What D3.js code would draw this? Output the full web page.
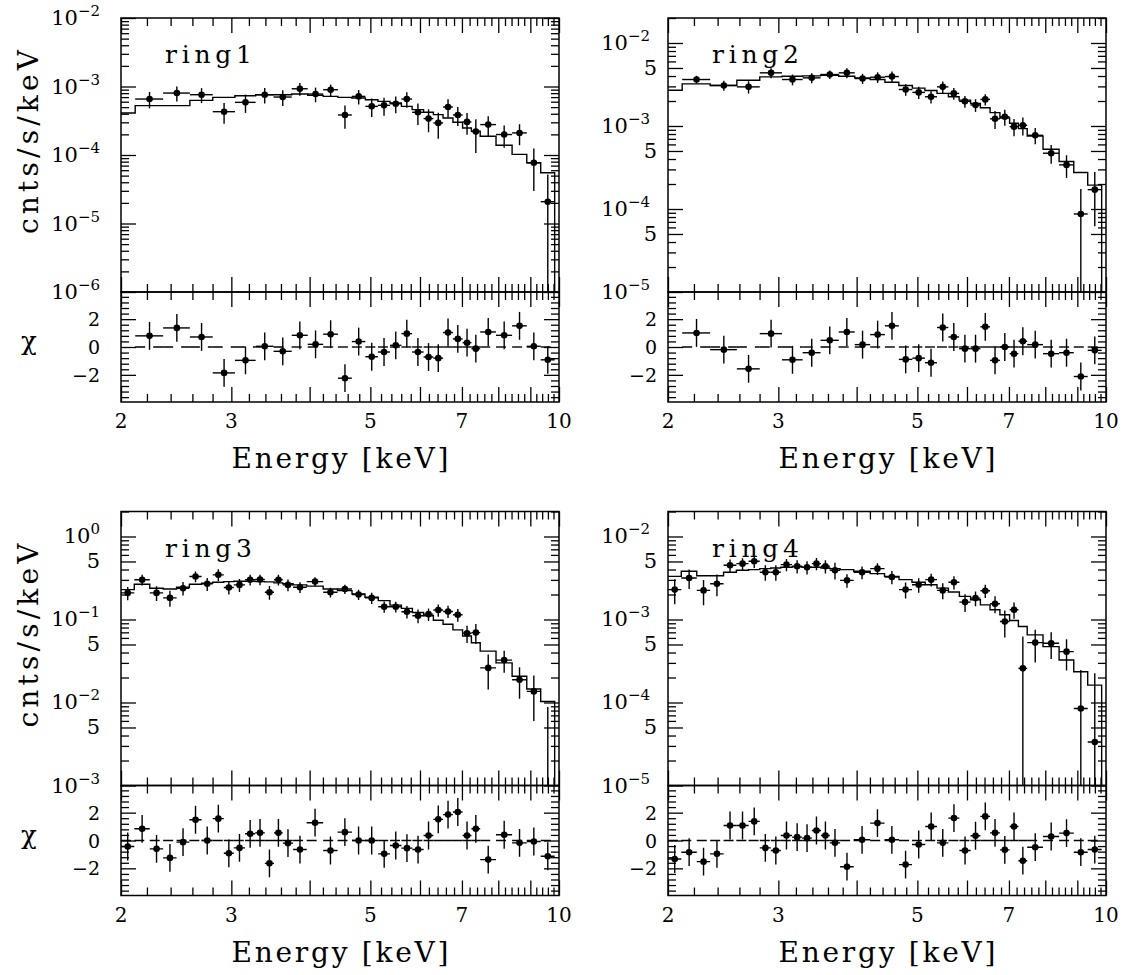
<!DOCTYPE html>
<html>
<head>
<meta charset="utf-8">
<script src="https://cdn.jsdelivr.net/npm/d3@7"></script>
<style>
  body { margin: 0; background: #fff; }
  svg { display: block; }
  text { font-family: "DejaVu Serif", "Liberation Serif", serif; fill: #000; }
</style>
</head>
<body>
<svg id="chart" width="1121" height="975"></svg>
<script>
// ---- spectral binning (keV bin edges) ----
const edgesCoarse = [2.000, 2.107, 2.335, 2.576, 2.802, 3.040, 3.280, 3.503, 3.745, 3.972,
  4.204, 4.438, 4.671, 4.909, 5.141, 5.374, 5.604, 5.829, 6.080, 6.303, 6.531, 6.772,
  7.017, 7.248, 7.486, 7.934, 8.417, 8.883, 9.350, 9.842];
const edgesFine = [2.000, 2.100, 2.223, 2.335, 2.453, 2.571, 2.689, 2.802, 2.918, 3.027,
  3.155, 3.274, 3.393, 3.509, 3.624, 3.764, 3.957, 4.204, 4.432, 4.674, 4.902, 5.147,
  5.374, 5.604, 5.835, 6.080, 6.303, 6.531, 6.772, 7.017, 7.248, 7.486, 7.934, 8.417,
  8.883, 9.350, 9.842];

// ---- ring1 ----
const ring1Rate = [null, 6.56e-4, 8.02e-4, 7.59e-4, 4.29e-4, 5.87e-4, 7.59e-4, 7.02e-4, 9.27e-4,
  7.76e-4, 8.97e-4, 3.84e-4, 7.17e-4, 5.13e-4, 5.31e-4, 5.61e-4, 6.56e-4, 4.20e-4, 3.40e-4,
  2.94e-4, 5.02e-4, 3.84e-4, 3.04e-4, 2.20e-4, 2.78e-4, 1.99e-4, 2.10e-4, 7.69e-5, 2.08e-5];
const ring1Err = [null, 1.76e-4, 1.97e-4, 1.87e-4, 1.43e-4, 1.75e-4, 1.94e-4, 1.82e-4, 1.94e-4,
  1.87e-4, 1.71e-4, 1.43e-4, 1.71e-4, 1.55e-4, 1.56e-4, 1.53e-4, 1.67e-4, 1.46e-4, 1.25e-4,
  1.21e-4, 1.49e-4, 1.20e-4, 1.07e-4, 1.13e-4, 0.90e-4, 0.71e-4, 0.71e-4, 4.7e-5, 3.1e-5];
const ring1Model = [4.10e-4, 5.25e-4, 5.25e-4, 6.27e-4, 6.94e-4, 7.34e-4, 7.59e-4, 7.59e-4,
  7.76e-4, 7.42e-4, 7.18e-4, 6.94e-4, 6.78e-4, 6.42e-4, 6.07e-4, 5.74e-4, 5.13e-4, 4.59e-4,
  4.20e-4, 3.88e-4, 3.47e-4, 3.00e-4, 2.48e-4, 2.22e-4, 1.88e-4, 1.39e-4, 1.02e-4, 7.69e-5, 5.50e-5];
const ring1Chi = [null, 0.80, 1.37, 0.72, -1.86, -0.96, 0.05, -0.31, 0.84, 0.19, 0.92, -2.24,
  0.39, -0.70, -0.36, 0.12, 0.96, -0.36, -0.72, -0.80, 1.04, 0.58, 0.31, -0.12, 1.08, 0.84,
  1.52, 0.05, -0.92];

// ---- ring2 ----
const ring2Rate = [null, 3.63e-3, 3.08e-3, 2.96e-3, 4.37e-3, 3.63e-3, 3.80e-3, 4.17e-3, 4.37e-3,
  3.73e-3, 3.87e-3, 3.94e-3, 2.75e-3, 2.54e-3, 2.25e-3, 2.96e-3, 2.47e-3, 1.98e-3, 1.79e-3,
  2.09e-3, 1.22e-3, 1.29e-3, 9.82e-4, 1.02e-3, 7.73e-4, 4.70e-4, 3.40e-4, 8.71e-5, 1.71e-4];
const ring2Err = [null, 4.0e-4, 4.2e-4, 5.0e-4, 6.0e-4, 5.4e-4, 5.3e-4, 5.0e-4, 6.0e-4, 5.2e-4,
  5.7e-4, 6.0e-4, 4.4e-4, 4.2e-4, 3.8e-4, 4.8e-4, 4.0e-4, 3.2e-4, 3.1e-4, 3.2e-4, 3.0e-4,
  2.8e-4, 2.3e-4, 2.5e-4, 1.7e-4, 1.19e-4, 1.04e-4, 8.7e-5, 1.09e-4];
const ring2Model = [2.70e-3, 3.22e-3, 3.08e-3, 3.56e-3, 3.91e-3, 3.98e-3, 4.02e-3, 4.09e-3,
  3.98e-3, 3.80e-3, 3.63e-3, 3.37e-3, 3.08e-3, 2.86e-3, 2.68e-3, 2.47e-3, 2.25e-3, 2.05e-3,
  1.87e-3, 1.66e-3, 1.45e-3, 1.25e-3, 1.08e-3, 9.29e-4, 7.59e-4, 5.25e-4, 3.73e-4, 2.75e-4, 1.94e-4];
const ring2Chi = [null, 1.01, -0.19, -1.57, 0.96, -0.92, -0.41, 0.48, 1.08, 0.17, 0.89, 1.52,
  -0.89, -0.80, -1.13, 1.40, 0.72, -0.12, -0.12, 1.45, -0.96, 0.00, -0.48, 0.41, 0.17, -0.48,
  -0.41, -2.12, -0.24];

// ---- ring3 ----
const ring3Rate = [0.209, 0.301, 0.209, 0.182, 0.238, 0.330, 0.269, 0.345, 0.243, 0.261, 0.301,
  0.303, 0.213, 0.301, 0.261, 0.245, 0.286, 0.213, 0.233, 0.200, 0.182, 0.1426, 0.1426, 0.1239,
  0.111, 0.116, 0.130, 0.125, 0.114, 0.0682, 0.0695, 0.0261, 0.0324, 0.0188, 0.0136, -0.0026];
const ring3Err = [0.038, 0.044, 0.042, 0.040, 0.044, 0.049, 0.048, 0.057, 0.043, 0.046, 0.045,
  0.044, 0.040, 0.045, 0.042, 0.036, 0.036, 0.029, 0.030, 0.028, 0.028, 0.022, 0.021, 0.021,
  0.021, 0.020, 0.022, 0.021, 0.020, 0.016, 0.019, 0.0118, 0.0095, 0.0077, 0.0076, 0.0114];
const ring3Model = [0.229, 0.266, 0.238, 0.233, 0.245, 0.266, 0.274, 0.281, 0.286, 0.289, 0.289,
  0.286, 0.284, 0.276, 0.269, 0.261, 0.252, 0.233, 0.223, 0.203, 0.185, 0.169, 0.149, 0.136,
  0.1216, 0.111, 0.0981, 0.0877, 0.0749, 0.0633, 0.0525, 0.0416, 0.0300, 0.0207, 0.01452, 0.01028];
const ring3Chi = [-0.43, 0.84, -0.60, -1.25, -0.12, 1.49, 0.00, 1.57, -0.92, -0.53, 0.48, 0.55,
  -1.64, 0.55, -0.19, -0.65, 1.28, -0.72, 0.60, 0.00, 0.00, -0.96, -0.36, -0.55, -0.65, 0.36,
  1.52, 1.86, 2.05, 0.36, 0.84, -1.37, 0.41, -0.17, -0.07, -1.13];

// ---- ring4 ----
const ring4Rate = [2.29e-3, 3.16e-3, 2.24e-3, 2.70e-3, 4.50e-3, 4.71e-3, 5.03e-3, 3.71e-3,
  3.71e-3, 4.58e-3, 4.38e-3, 4.26e-3, 4.71e-3, 4.38e-3, 3.92e-3, 2.96e-3, 3.71e-3, 4.10e-3,
  3.25e-3, 2.29e-3, 2.62e-3, 3.02e-3, 2.24e-3, 2.81e-3, 1.62e-3, 1.81e-3, 2.22e-3, 1.55e-3,
  9.46e-4, 1.31e-3, 2.58e-4, 5.27e-4, 5.18e-4, 4.10e-4, 8.45e-5, 3.34e-5];
const ring4Err = [7.6e-4, 8.3e-4, 7.6e-4, 7.9e-4, 7.8e-4, 7.7e-4, 8.6e-4, 7.9e-4, 7.9e-4, 7.8e-4,
  8.0e-4, 7.8e-4, 8.0e-4, 8.0e-4, 8.9e-4, 5.4e-4, 6.5e-4, 6.6e-4, 5.9e-4, 5.0e-4, 5.2e-4,
  5.3e-4, 4.9e-4, 5.1e-4, 3.9e-4, 3.7e-4, 4.0e-4, 3.6e-4, 3.4e-4, 2.9e-4, 3.65e-4, 2.23e-4,
  1.83e-4, 1.67e-4, 1.62e-4, 1.91e-4];
const ring4Model = [3.31e-3, 3.81e-3, 3.37e-3, 3.37e-3, 3.71e-3, 3.92e-3, 3.99e-3, 4.10e-3,
  4.18e-3, 4.26e-3, 4.30e-3, 4.26e-3, 4.26e-3, 4.18e-3, 4.10e-3, 3.99e-3, 3.81e-3, 3.57e-3,
  3.31e-3, 3.02e-3, 2.81e-3, 2.62e-3, 2.39e-3, 2.14e-3, 1.90e-3, 1.73e-3, 1.50e-3, 1.31e-3,
  1.14e-3, 9.73e-4, 8.23e-4, 6.53e-4, 4.71e-4, 3.25e-4, 2.35e-4, 1.62e-4];
const ring4Chi = [-1.33, -0.84, -1.52, -0.96, 1.08, 1.08, 1.37, -0.53, -0.72, 0.36, 0.24, 0.17,
  0.72, 0.36, -0.17, -1.88, 0.05, 1.25, 0.05, -1.73, -0.29, 1.01, -0.17, 1.61, -0.72, 0.34,
  1.73, 0.55, -0.67, 1.01, -1.45, -0.48, 0.29, 0.53, -0.84, -0.65];

// ---- axis ticks / labels ----
const energyLabels = [2, 3, 5, 7, 10];
const chiLabels = [-2, 0, 2];
const panelNames = ["ring1", "ring2", "ring3", "ring4"];

const panels = [
  { name: panelNames[0], col: 0, row: 0, edges: edgesCoarse, rate: ring1Rate, err: ring1Err,
    model: ring1Model, chi: ring1Chi, yDomain: [1e-6, 1e-2], fives: false },
  { name: panelNames[1], col: 1, row: 0, edges: edgesCoarse, rate: ring2Rate, err: ring2Err,
    model: ring2Model, chi: ring2Chi, yDomain: [1e-5, 2e-2], fives: true },
  { name: panelNames[2], col: 0, row: 1, edges: edgesFine, rate: ring3Rate, err: ring3Err,
    model: ring3Model, chi: ring3Chi, yDomain: [1e-3, 2], fives: true },
  { name: panelNames[3], col: 1, row: 1, edges: edgesFine, rate: ring4Rate, err: ring4Err,
    model: ring4Model, chi: ring4Chi, yDomain: [1e-5, 2e-2], fives: true }
];

// ---- layout ----
const PW = 438, HM = 274, HR = 110;
const colX = [121, 668];
const rowY = [18, 511.5];
const MAJ = 15, MIN = 8;
const LW = 1.4;

const svg = d3.select("#chart");
const defs = svg.append("defs");

const round1 = v => Math.round(v * 10) / 10;
const xMajor = d3.range(2, 11, 1);
const xMinor = d3.range(2, 10.001, 0.2).map(round1).filter(v => Math.abs(v - Math.round(v)) > 1e-6);
const chiTicks = d3.range(-3.6, 3.61, 0.4).map(round1);
const chiMajor = chiTicks.filter(v => Math.abs(v % 2) < 1e-6);
const chiMinor = chiTicks.filter(v => Math.abs(v % 2) >= 1e-6);

function logTicks(domain, fives) {
  const lo = Math.floor(Math.log10(domain[0]) + 1e-9), hi = Math.ceil(Math.log10(domain[1]) - 1e-9);
  const major = [], minor = [];
  for (let d = lo; d <= hi; d++) {
    for (let k = 1; k <= 9; k++) {
      const v = k * Math.pow(10, d);
      if (v < domain[0] * 0.999 || v > domain[1] * 1.001) continue;
      if (k === 1 || (fives && k === 5)) major.push(v); else minor.push(v);
    }
  }
  return { major, minor };
}

function stripAxis(sel) {
  sel.select(".domain").remove();
  sel.selectAll(".tick line").attr("stroke", "#000").attr("stroke-width", 1.3);
  sel.selectAll(".tick text").remove();
}

function drawTicksX(g, scale, yPos, dir) {
  // dir: +1 ticks point down, -1 ticks point up
  const axisFn = dir > 0 ? d3.axisTop : d3.axisBottom;
  [[xMajor, MAJ], [xMinor, MIN]].forEach(([vals, len]) => {
    g.append("g").attr("transform", `translate(0,${yPos})`)
      .call(axisFn(scale).tickValues(vals).tickSize(-len).tickFormat(""))
      .call(stripAxis);
  });
}

function drawTicksY(g, scale, x0, x1, major, minor) {
  [[major, MAJ], [minor, MIN]].forEach(([vals, len]) => {
    g.append("g").attr("transform", `translate(${x0},0)`)
      .call(d3.axisLeft(scale).tickValues(vals).tickSize(-len).tickFormat(""))
      .call(stripAxis);
    g.append("g").attr("transform", `translate(${x1},0)`)
      .call(d3.axisRight(scale).tickValues(vals).tickSize(-len).tickFormat(""))
      .call(stripAxis);
  });
}

panels.forEach((p, pi) => {
  const x0 = colX[p.col], x1 = x0 + PW;
  const y0 = rowY[p.row], yDiv = y0 + HM, yBot = yDiv + HR;

  const x = d3.scaleLog().domain([2, 10]).range([x0, x1]);
  const y = d3.scaleLog().domain(p.yDomain).range([yDiv, y0]);
  const yr = d3.scaleLinear().domain([-3.95, 3.95]).range([yBot, yDiv]);
  const yv = v => (v > 0 ? y(v) : yDiv + 20);

  defs.append("clipPath").attr("id", `clipMain${pi}`).append("rect")
    .attr("x", x0).attr("y", y0).attr("width", PW).attr("height", HM);
  defs.append("clipPath").attr("id", `clipRes${pi}`).append("rect")
    .attr("x", x0).attr("y", yDiv).attr("width", PW).attr("height", HR);

  const nb = p.edges.length - 1;
  const bins = d3.range(nb).map(i => ({
    lo: p.edges[i], hi: p.edges[i + 1], mid: (p.edges[i] + p.edges[i + 1]) / 2,
    rate: p.rate[i], err: p.err[i], model: p.model[i], chi: p.chi[i]
  }));
  const data = bins.filter(b => b.rate != null);

  // ---- spectrum panel ----
  const main = svg.append("g").attr("clip-path", `url(#clipMain${pi})`);

  const stepPts = bins.map(b => [x(b.lo), y(b.model)]);
  stepPts.push([x(bins[nb - 1].hi), y(bins[nb - 1].model)]);
  stepPts.push([x(bins[nb - 1].hi), yDiv + 5]);
  main.append("path")
    .attr("d", d3.line().curve(d3.curveStepAfter)(stepPts))
    .attr("fill", "none").attr("stroke", "#000").attr("stroke-width", LW);

  main.selectAll(".xerr").data(data).join("line").attr("class", "xerr")
    .attr("x1", d => x(d.lo)).attr("x2", d => x(d.hi))
    .attr("y1", d => yv(d.rate)).attr("y2", d => yv(d.rate))
    .attr("stroke", "#000").attr("stroke-width", LW);
  main.selectAll(".yerr").data(data).join("line").attr("class", "yerr")
    .attr("x1", d => x(d.mid)).attr("x2", d => x(d.mid))
    .attr("y1", d => yv(d.rate - d.err)).attr("y2", d => yv(d.rate + d.err))
    .attr("stroke", "#000").attr("stroke-width", LW);
  main.selectAll(".dot").data(data.filter(d => d.rate > 0)).join("circle").attr("class", "dot")
    .attr("cx", d => x(d.mid)).attr("cy", d => y(d.rate)).attr("r", 3.3).attr("fill", "#000");

  // ---- residual panel ----
  const res = svg.append("g").attr("clip-path", `url(#clipRes${pi})`);
  res.selectAll(".zero").data(data).join("line").attr("class", "zero")
    .attr("x1", d => x(d.lo)).attr("x2", d => x(d.hi))
    .attr("y1", yr(0)).attr("y2", yr(0))
    .attr("stroke", "#000").attr("stroke-width", LW).attr("stroke-dasharray", "10,8");
  res.selectAll(".xerr").data(data).join("line").attr("class", "xerr")
    .attr("x1", d => x(d.lo)).attr("x2", d => x(d.hi))
    .attr("y1", d => yr(d.chi)).attr("y2", d => yr(d.chi))
    .attr("stroke", "#000").attr("stroke-width", LW);
  res.selectAll(".yerr").data(data).join("line").attr("class", "yerr")
    .attr("x1", d => x(d.mid)).attr("x2", d => x(d.mid))
    .attr("y1", d => yr(d.chi - 1)).attr("y2", d => yr(d.chi + 1))
    .attr("stroke", "#000").attr("stroke-width", LW);
  res.selectAll(".dot").data(data).join("circle").attr("class", "dot")
    .attr("cx", d => x(d.mid)).attr("cy", d => yr(d.chi)).attr("r", 3.3).attr("fill", "#000");

  // ---- frames and ticks ----
  const axes = svg.append("g");
  axes.append("rect").attr("x", x0).attr("y", y0).attr("width", PW).attr("height", HM)
    .attr("fill", "none").attr("stroke", "#000").attr("stroke-width", 1.5);
  axes.append("rect").attr("x", x0).attr("y", yDiv).attr("width", PW).attr("height", HR)
    .attr("fill", "none").attr("stroke", "#000").attr("stroke-width", 1.5);

  drawTicksX(axes, x, y0, +1);
  drawTicksX(axes, x, yDiv, -1);
  drawTicksX(axes, x, yDiv, +1);
  drawTicksX(axes, x, yBot, -1);

  const lt = logTicks(p.yDomain, p.fives);
  drawTicksY(axes, y, x0, x1, lt.major, lt.minor);
  drawTicksY(axes, yr, x0, x1, chiMajor, chiMinor);

  // ---- tick labels ----
  const decGap = p.col === 0 ? 21 : 18;
  const otherGap = p.col === 0 ? 21 : 11;
  lt.major.forEach(v => {
    const e = Math.round(Math.log10(v));
    const isDecade = Math.abs(v / Math.pow(10, e) - 1) < 1e-6;
    if (isDecade) {
      const t = axes.append("text").attr("x", x0 - decGap).attr("y", y(v) + 7)
        .attr("text-anchor", "end").attr("font-size", 21);
      t.append("tspan").text("10");
      t.append("tspan").attr("dy", -9).attr("font-size", 15)
        .text(e < 0 ? "\u2212" + (-e) : String(e));
    } else {
      axes.append("text").attr("x", x0 - otherGap).attr("y", y(v) + 7)
        .attr("text-anchor", "end").attr("font-size", 21).text("5");
    }
  });
  chiLabels.forEach(v => {
    axes.append("text").attr("x", x0 - otherGap).attr("y", yr(v) + 7)
      .attr("text-anchor", "end").attr("font-size", 19)
      .text(v < 0 ? "\u2212" + (-v) : String(v));
  });
  energyLabels.forEach(v => {
    axes.append("text").attr("x", x(v)).attr("y", yBot + 26)
      .attr("text-anchor", "middle").attr("font-size", 20).text(String(v));
  });

  // ---- titles ----
  axes.append("text").attr("x", x0 + PW / 2).attr("y", yBot + 66)
    .attr("text-anchor", "middle").attr("font-size", 28)
    .attr("textLength", 217).attr("lengthAdjust", "spacing")
    .text("Energy [keV]");
  axes.append("text").attr("x", x0 + 44).attr("y", y0 + 45)
    .attr("font-size", 25).attr("textLength", 87).attr("lengthAdjust", "spacing")
    .text(p.name);
  if (p.col === 0) {
    axes.append("text")
      .attr("transform", `translate(38,${y0 + 124}) rotate(-90)`)
      .attr("text-anchor", "middle").attr("font-size", 28)
      .attr("textLength", 184).attr("lengthAdjust", "spacing")
      .text("cnts/s/keV");
    axes.append("text").attr("x", 29).attr("y", yr(0) + 3)
      .attr("text-anchor", "middle").attr("font-size", 26).text("\u03c7");
  }
});
</script>
</body>
</html>
